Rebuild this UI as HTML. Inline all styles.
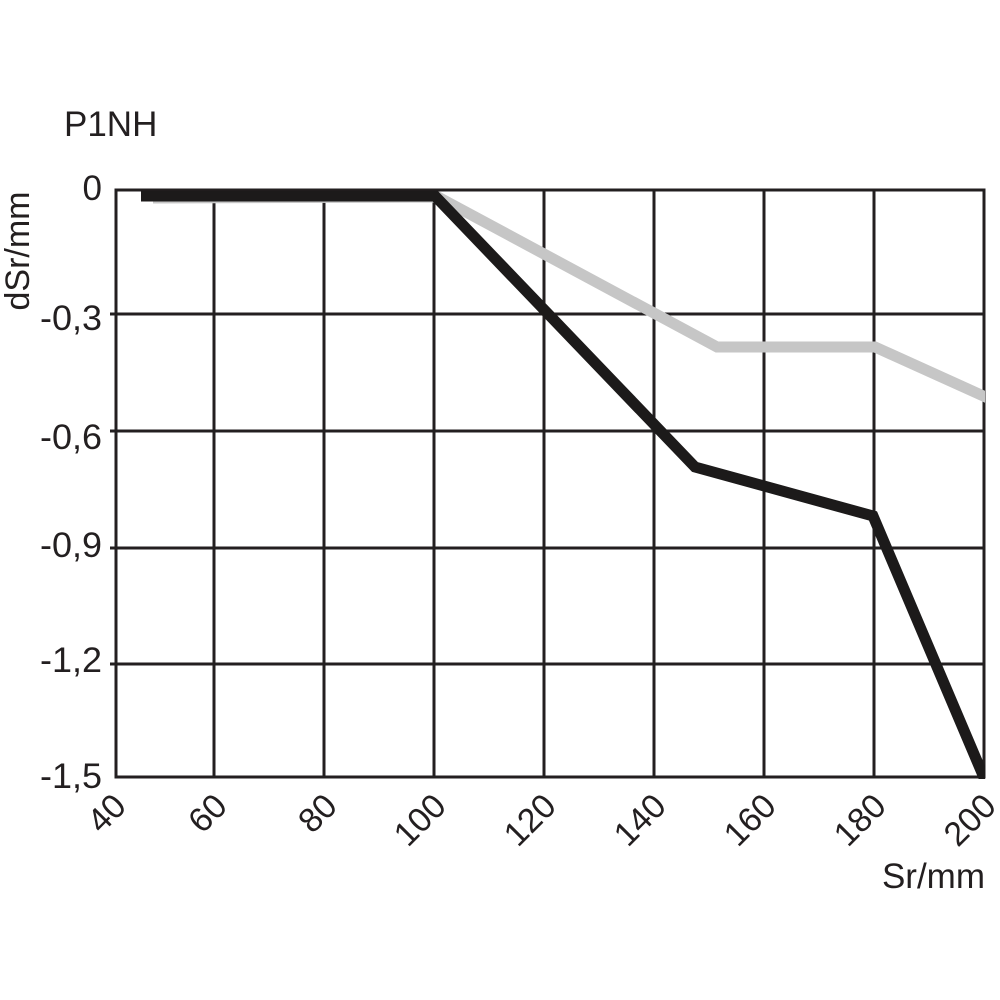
<!DOCTYPE html>
<html>
<head>
<meta charset="utf-8">
<style>
html,body{margin:0;padding:0;background:#fff;}
svg{display:block;}
text{font-family:"Liberation Sans",Arial,sans-serif;fill:#231f20;}
</style>
</head>
<body>
<svg width="1000" height="1000" viewBox="0 0 1000 1000" xmlns="http://www.w3.org/2000/svg">
<defs>
<clipPath id="pc"><rect x="116" y="185" width="869" height="594"/></clipPath>
</defs>
<rect x="0" y="0" width="1000" height="1000" fill="#fff"/>
<!-- grid -->
<g stroke="#231f20" stroke-width="3" fill="none">
<line x1="214" y1="190" x2="214" y2="777"/>
<line x1="324" y1="190" x2="324" y2="777"/>
<line x1="434" y1="190" x2="434" y2="777"/>
<line x1="544" y1="190" x2="544" y2="777"/>
<line x1="654" y1="190" x2="654" y2="777"/>
<line x1="764" y1="190" x2="764" y2="777"/>
<line x1="874" y1="190" x2="874" y2="777"/>
<line x1="110" y1="314" x2="984" y2="314"/>
<line x1="110" y1="431" x2="984" y2="431"/>
<line x1="110" y1="548" x2="984" y2="548"/>
<line x1="110" y1="664" x2="984" y2="664"/>
<rect x="116" y="190" width="868" height="587"/>
</g>
<!-- series -->
<g clip-path="url(#pc)" fill="none" stroke-linejoin="miter" stroke-linecap="butt">
<polyline points="153,198 438,197 717,347 875,347 990,399" stroke="#c6c6c6" stroke-width="11"/>
<polyline points="141,196 435,196 695,467 873,516 988,787" stroke="#1c1a1a" stroke-width="11"/>
</g>
<!-- y labels -->
<g font-size="35" text-anchor="end">
<text x="102" y="200">0</text>
<text x="102" y="330" textLength="62" lengthAdjust="spacingAndGlyphs">-0,3</text>
<text x="102" y="449" textLength="62" lengthAdjust="spacingAndGlyphs">-0,6</text>
<text x="102" y="557" textLength="62" lengthAdjust="spacingAndGlyphs">-0,9</text>
<text x="102" y="672" textLength="62" lengthAdjust="spacingAndGlyphs">-1,2</text>
<text x="102" y="788" textLength="62" lengthAdjust="spacingAndGlyphs">-1,5</text>
</g>
<!-- x labels -->
<g font-size="34" text-anchor="end">
<text transform="translate(128,808) rotate(-45)">40</text>
<text transform="translate(229,808) rotate(-45)">60</text>
<text transform="translate(339,808) rotate(-45)">80</text>
<text transform="translate(448,808) rotate(-45)">100</text>
<text transform="translate(558,808) rotate(-45)">120</text>
<text transform="translate(668,808) rotate(-45)">140</text>
<text transform="translate(778,808) rotate(-45)">160</text>
<text transform="translate(888,808) rotate(-45)">180</text>
<text transform="translate(998,808) rotate(-45)">200</text>
</g>
<!-- titles -->
<text x="64" y="136" font-size="35">P1NH</text>
<text x="985" y="888" font-size="35" text-anchor="end">Sr/mm</text>
<text transform="translate(29,251) rotate(-90)" font-size="34" text-anchor="middle">dSr/mm</text>
</svg>
</body>
</html>
